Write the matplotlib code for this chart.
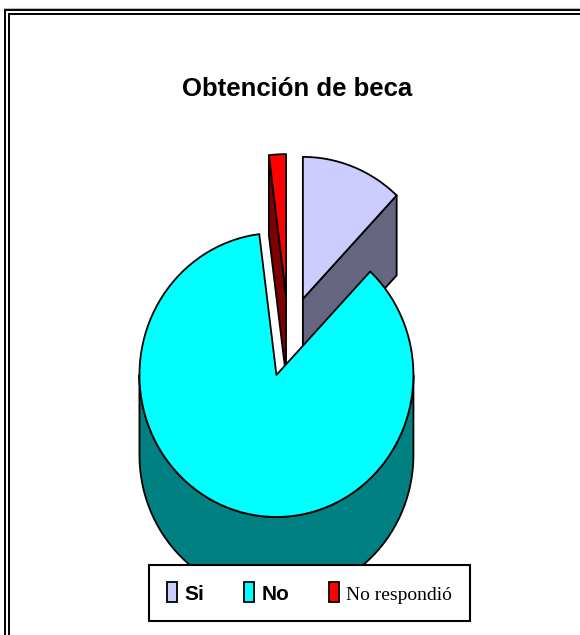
import numpy as np
import matplotlib
matplotlib.use("Agg")
import matplotlib.pyplot as plt
from matplotlib.patches import Polygon, Patch

# ---- data ----
title = "Obtención de beca"
categories = ["Si", "No", "No respondió"]
values = [12, 86, 2]
top_colors = ["#CCCCFF", "#00FFFF", "#FF0000"]
side_colors = ["#666680", "#008080", "#800000"]

W, H = 580, 635
fig = plt.figure(figsize=(W / 100, H / 100), dpi=100)
fig.patch.set_facecolor("white")
ax = fig.add_axes([0, 0, 1, 1])
ax.set_xlim(0, W)
ax.set_ylim(H, 0)
ax.axis("off")

# ---- 3D exploded pie geometry ----
cx, cy = 288.5, 336.5
rx, ry = 137.0, 142.0
explode = 0.285
depth = 80.0
lw = 1.3

fracs = np.asarray(values, float) / np.sum(values)
bounds = np.concatenate([[0.0], np.cumsum(fracs)]) * 360.0


def rim(ox, oy, a0, a1, d=0.0, n=120):
    t = np.radians(np.linspace(a0, a1, max(2, int(n * abs(a1 - a0) / 360) + 2)))
    return np.column_stack([ox + rx * np.sin(t), oy - ry * np.cos(t) + d])


def poly(pts, fc, z):
    ax.add_patch(Polygon(pts, closed=True, facecolor=fc, edgecolor="black",
                         linewidth=lw, joinstyle="round", zorder=z))


slices = []
for i in range(len(values)):
    a0, a1 = bounds[i], bounds[i + 1]
    mid = np.radians((a0 + a1) / 2)
    ox = cx + explode * rx * np.sin(mid)
    oy = cy - explode * ry * np.cos(mid)
    slices.append((oy, i, a0, a1, ox))

z = 1
for oy, i, a0, a1, ox in sorted(slices):
    apex = np.array([ox, oy])
    apex_b = apex + [0, depth]
    # outer wall (front part only)
    lo, hi = max(a0, 90.0), min(a1, 270.0)
    if hi > lo:
        top = rim(ox, oy, lo, hi)
        bot = rim(ox, oy, lo, hi, d=depth)[::-1]
        poly(np.vstack([top, bot]), side_colors[i], z)
        z += 1
    # radial cut faces
    for a, vis in ((a0, np.sin(np.radians(a0)) < -1e-9),
                   (a1, np.sin(np.radians(a1)) > 1e-9)):
        if vis:
            r_t = rim(ox, oy, a, a, n=2)[0]
            poly(np.array([apex, r_t, r_t + [0, depth], apex_b]), side_colors[i], z)
            z += 1
    # top face
    poly(np.vstack([apex, rim(ox, oy, a0, a1)]), top_colors[i], z)
    z += 1

# ---- title ----
fig.text(297 / W, 1 - 89 / H, title, ha="center", va="center", fontsize=18.5,
         fontweight="bold", family=["Liberation Sans Narrow", "Liberation Sans", "DejaVu Sans"])

# ---- legend ----
handles = [Patch(facecolor=c, edgecolor="black", linewidth=lw) for c in top_colors]
leg = fig.legend(handles, categories, loc="center",
                 bbox_to_anchor=(309.5 / W, 1 - 593 / H), ncol=3,
                 frameon=True, fancybox=False, shadow=False, edgecolor="black",
                 handlelength=0.48, handleheight=1.1, columnspacing=1.9,
                 handletextpad=0.35, borderpad=0.85, fontsize=15)
leg.get_frame().set_linewidth(1.5)
leg.get_frame().set_alpha(1)
for t, txt in zip(leg.get_texts(), categories):
    if txt == "No respondió":
        t.set_family(["Liberation Serif", "DejaVu Serif"])
        t.set_fontweight("normal")
        t.set_fontsize(14)
    else:
        t.set_family(["Liberation Sans Narrow", "Liberation Sans", "DejaVu Sans"])
        t.set_fontweight("bold")
        t.set_fontsize(15)

# ---- double border (frame of the chart area) ----
for off in (4.5, 8.5):
    ax.plot([off, off], [off + 5.5, H + 5], color="black", lw=1.4, clip_on=False, zorder=50)
    ax.plot([off, W + 5], [off + 5.5, off + 5.5], color="black", lw=1.4, clip_on=False, zorder=50)
ax.plot([4, W + 5], [8, 8], color="#bbbbbb", lw=0.8, clip_on=False, zorder=49)

fig.savefig("out.png", dpi=100, facecolor="white")
